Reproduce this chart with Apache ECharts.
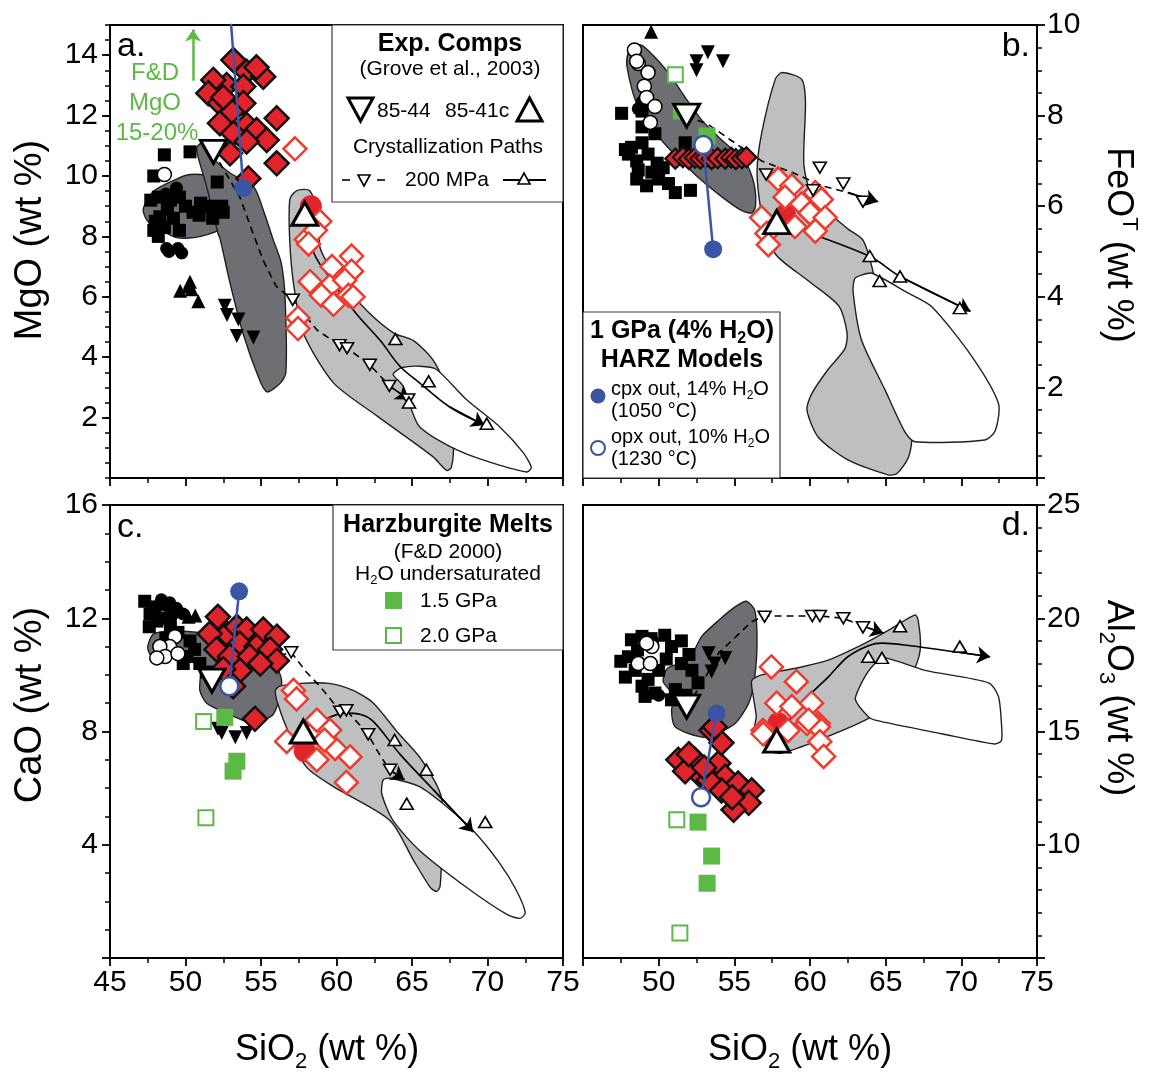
<!DOCTYPE html>
<html>
<head>
<meta charset="utf-8">
<script src="https://cdn.jsdelivr.net/npm/echarts@6/dist/echarts.min.js"></script>
<style>
  html, body { margin: 0; padding: 0; background: #fff; }
  #chart { width: 1149px; height: 1076px; }
</style>
</head>
<body>
<div id="chart"></div>
<script>
// ---------- axis ranges ----------
const sio2Range = [45, 75];   const sio2Step = 5;
const mgoRange  = [0, 15];    const mgoStep  = 2;
const feoRange  = [0, 10];    const feoStep  = 2;
const caoRange  = [0, 16];    const caoStep  = 4;
const alRange   = [5, 25];    const alStep   = 5;

// ---------- panel a : MgO vs SiO2 ----------
const blackSquaresA = [[48.6,10.7],[50.3,10.8],[47.9,10.0],[52.1,9.8],[47.7,9.2],[48.2,9.3],[49.0,9.2],[49.6,9.3],[48.8,8.9],[50.0,9.0],[51.0,9.1],[51.6,9.0],[52.4,9.0],[48.3,8.65],[49.2,8.6],[47.9,8.2],[48.6,8.3],[49.6,8.2],[50.5,8.8],[51.8,8.6],[52.5,8.8],[48.2,8.0],[50.9,8.7],[48.0,8.5]];
const blackCirclesA = [[48.75,7.6],[49.5,7.6],[49.75,7.45],[48.9,7.5],[49.4,9.6],[48.7,9.4]];
const whiteCirclesA = [[48.6,10.05]];
const blackUpA = [[50.3,6.5],[49.65,6.2],[50.4,6.25],[50.85,5.85],[50.2,6.35]];
const blackDownA = [[52.6,5.7],[52.75,5.4],[53.5,5.25],[53.4,4.7],[54.5,4.65]];
const redDiamondsA = [[53.17,13.84],[54.05,13.45],[55.15,13.29],[52.73,13.01],[51.84,13.18],[51.51,12.74],[53.83,12.96],[53.83,12.41],[52.28,12.41],[53.06,12.13],[56.04,11.91],[52.28,11.75],[54.05,11.69],[54.71,11.52],[55.38,11.19],[53.17,11.41],[54.05,11.14],[52.95,10.75],[56.04,10.42],[54.16,9.92],[54.7,13.6],[52.5,12.6]];
const openDiamondsA = [[57.25,10.9],[58.9,8.5],[58.0,7.9],[58.6,8.2],[58.15,7.75],[61.0,7.35],[59.7,7.0],[61.0,6.85],[58.25,6.5],[59.55,6.35],[60.55,6.55],[59.0,6.05],[60.8,6.05],[59.8,5.75],[61.1,6.0],[57.45,5.3],[57.45,4.95]];
const redCircleA = [[58.3,9.0]];
const exp8544A = [[51.85,10.8]];
const exp8541A = [[57.9,8.75]];
const path8544A = [[51.85,10.8],[53.6,9.3],[54.4,8.2],[55.15,7.2],[56.0,6.35],[57.1,5.9],[58.7,4.9],[60.2,4.4],[60.7,4.3],[62.2,3.75],[63.5,3.05],[64.8,2.6]];
const steps8544A = [[57.1,5.9],[60.2,4.4],[60.7,4.3],[62.2,3.75],[63.5,3.05],[64.75,2.6]];
const path8541A = [[57.9,8.75],[58.5,7.45],[59.8,6.45],[61.3,5.45],[62.9,4.55],[64.2,3.7],[65.5,3.15],[67.5,2.35],[69.8,1.75]];
const steps8541A = [[63.9,4.6],[66.1,3.2],[64.8,2.5],[69.95,1.8]];
const cpxOutA = [[53.83,9.6]];
const opxOutA = [[52.8,16.5]];
const fieldDarkBlobA = [[47.2,8.9],[47.9,9.5],[49.4,9.9],[50.3,10.05],[51.6,10.0],[52.6,9.6],[52.9,8.9],[52.5,8.3],[51.0,8.0],[49.5,7.95],[48.4,8.2],[47.5,8.5]];
const fieldDarkA = [[50.75,10.95],[51.15,11.1],[52.0,10.5],[52.95,10.1],[54.5,9.65],[55.2,8.8],[55.8,7.9],[56.35,7.1],[56.6,5.9],[56.65,3.5],[56.3,3.15],[55.4,2.85],[54.9,3.25],[53.8,4.8],[52.95,6.45],[52.3,7.9],[52.15,8.1],[51.4,9.65],[50.85,10.6]];
const fieldLightA = [[56.9,9.2],[57.2,9.45],[57.6,9.55],[58.25,9.5],[58.9,8.65],[58.9,7.65],[59.8,6.8],[62.0,5.55],[63.8,4.8],[65.1,4.55],[66.4,3.9],[67.6,2.6],[67.75,1.0],[67.6,0.35],[67.3,0.25],[66.4,0.7],[62.7,2.05],[59.8,3.15],[57.8,4.8],[57.15,6.45],[56.9,7.9]];
const fieldWhiteA = [[63.75,3.45],[64.3,3.65],[65.5,3.7],[66.6,3.6],[68.6,2.6],[70.8,1.7],[72.35,0.85],[72.9,0.35],[72.6,0.2],[69.7,0.6],[67.5,1.05],[65.5,1.7],[64.9,2.35],[64.4,3.05],[63.85,3.35]];
const fdArrowA = [[50.5,13.15],[50.5,14.85]];

// ---------- panel b : FeOT vs SiO2 ----------
const blackSquaresB = [[47.55,8.05],[48.2,7.3],[48.9,7.4],[48.0,7.15],[48.55,7.0],[49.3,7.15],[49.9,6.95],[48.65,6.8],[49.55,6.75],[48.55,6.6],[50.65,6.5],[51.1,6.3],[52.1,6.35],[50.3,6.85],[48.9,7.75],[49.75,7.6],[48.9,8.1],[51.75,7.4],[49.2,6.45],[50.0,6.6],[47.8,7.25]];
const blackCirclesB = [[48.65,8.15],[48.9,8.3]];
const whiteCirclesB = [[48.4,9.45],[48.65,9.15],[48.55,9.2],[49.3,8.95],[49.05,8.65],[49.2,8.4],[49.75,8.2],[49.45,7.85]];
const blackUpB = [[49.5,9.85]];
const blackDownB = [[53.25,9.4],[52.5,9.2],[52.5,9.0],[54.25,9.2]];
const redDiamondsB = [[51.1,7.05],[51.6,7.08],[52.0,7.04],[52.4,7.07],[52.75,7.05],[53.1,7.07],[53.5,7.04],[53.9,7.06],[54.4,7.05],[54.8,7.07],[55.1,7.04],[55.5,7.06],[55.8,7.08]];
const openDiamondsB = [[57.9,6.6],[58.8,6.45],[58.35,6.2],[59.45,6.05],[60.35,6.3],[60.75,6.15],[60.0,5.85],[61.0,5.75],[56.8,5.75],[57.15,5.4],[57.25,5.15],[60.35,5.45],[59.0,5.55]];
const redCircleB = [[58.35,5.8]];
const exp8544B = [[51.85,8.0]];
const exp8541B = [[57.8,5.65]];
const path8544B = [[51.85,8.0],[53.3,7.8],[54.8,7.45],[56.8,7.0],[58.8,6.75],[60.8,6.45],[62.5,6.3],[64.5,6.1]];
const steps8544B = [[57.1,6.7],[60.65,6.85],[60.2,6.35],[62.2,6.5],[63.5,6.1]];
const path8541B = [[57.8,5.65],[63.9,4.9],[65.95,4.45],[70.6,3.68]];
const steps8541B = [[63.95,4.9],[64.6,4.35],[65.95,4.45],[69.9,3.75]];
const greenFilledB = [[51.5,8.1],[53.2,7.55]];
const greenOpenB = [[51.1,8.9]];
const cpxOutB = [[53.6,5.05]];
const opxOutB = [[52.95,7.35]];
const fieldDarkB = [[48.0,9.4],[48.35,9.55],[48.9,9.55],[50.0,9.2],[50.85,8.85],[51.75,8.4],[52.85,7.9],[54.2,7.45],[55.7,7.0],[56.3,6.5],[56.4,6.0],[56.15,5.85],[55.5,5.9],[54.2,6.2],[52.4,6.7],[50.6,7.3],[49.5,7.75],[48.45,8.35],[47.9,9.1]];
const fieldLightB = [[56.5,6.75],[56.8,7.6],[57.7,8.8],[58.15,8.95],[59.45,8.8],[59.7,8.3],[59.6,6.9],[60.2,6.2],[62.5,5.5],[63.5,5.25],[64.2,4.5],[65.0,3.0],[66.7,0.9],[66.5,0.45],[65.75,0.1],[65.15,0.07],[62.5,0.4],[60.55,0.9],[59.8,1.5],[60.1,1.85],[61.2,2.4],[62.3,2.85],[62.45,3.2],[61.9,3.8],[59.9,4.35],[57.7,4.95],[56.8,5.85]];
const fieldWhiteB = [[62.95,4.4],[63.4,4.48],[64.1,4.52],[66.5,4.08],[68.05,3.78],[70.7,2.68],[72.45,1.65],[72.25,1.05],[71.55,0.84],[66.95,0.8],[66.3,1.0],[64.95,1.95],[63.4,3.05],[62.85,4.1]];

// ---------- panel c : CaO vs SiO2 ----------
const blackSquaresC = [[47.3,12.6],[47.85,12.4],[47.65,12.15],[48.1,11.9],[50.1,10.65],[49.85,10.4],[50.95,10.4],[51.4,10.1],[48.0,12.3],[48.5,12.0],[49.0,11.7],[49.5,11.5],[50.3,11.2],[50.6,10.9],[48.7,11.3],[47.6,11.7]];
const blackCirclesC = [[48.4,12.65],[48.95,12.55],[49.4,12.35],[49.85,12.15],[48.7,12.45],[49.1,12.1]];
const blackUpC = [[50.2,12.05],[50.65,12.1]];
const whiteCirclesC = [[49.3,11.35],[48.95,11.0],[48.3,11.0],[48.65,10.65],[48.1,10.6],[49.5,10.75]];
const blackDownC = [[52.15,8.1],[52.4,7.95],[53.3,7.8],[54.05,7.95]];
const redDiamondsC = [[52.15,12.05],[52.75,11.45],[51.6,11.45],[53.4,11.7],[54.05,11.6],[55.15,11.6],[56.05,11.35],[53.6,11.1],[54.7,11.0],[52.05,10.9],[55.6,10.9],[52.95,10.65],[54.25,10.65],[56.05,10.5],[54.95,10.4],[53.6,10.15],[53.15,9.6],[54.6,8.45],[52.5,10.2]];
const openDiamondsC = [[57.15,9.45],[57.35,9.15],[56.7,7.65],[58.45,7.95],[59.55,8.05],[59.9,7.4],[58.7,7.0],[60.9,7.1],[60.65,6.2],[58.7,8.4],[59.2,7.7]];
const redCircleC = [[57.9,7.3]];
const exp8544C = [[51.75,9.8]];
const exp8541C = [[57.8,8.0]];
const path8544C = [[51.75,9.8],[54.5,10.4],[57.0,10.8],[58.0,10.1],[58.9,9.6],[60.2,8.75],[60.65,8.75],[62.1,7.9],[62.55,7.45],[63.5,6.65],[64.5,6.3]];
const steps8544C = [[57.0,10.8],[60.25,8.7],[60.65,8.75],[62.1,7.9],[63.55,6.65]];
const path8541C = [[57.8,8.0],[59.3,8.45],[60.6,8.65],[61.6,8.6],[62.45,8.35],[64.2,7.2],[66.4,5.95],[69.05,4.45]];
const steps8541C = [[63.85,7.7],[65.95,6.65],[64.65,5.45],[69.85,4.8]];
const greenFilledC = [[52.6,8.5],[53.4,6.95],[53.15,6.6]];
const greenOpenC = [[51.2,8.35],[51.35,4.95]];
const cpxOutC = [[53.55,12.95]];
const opxOutC = [[52.9,9.6]];
const fieldDarkC = [[47.5,11.0],[47.9,11.45],[49.5,11.55],[51.5,11.45],[54.0,11.2],[55.8,10.5],[56.35,9.85],[56.25,9.25],[55.8,8.6],[54.7,8.3],[54.05,8.35],[52.7,8.65],[51.4,9.0],[50.95,9.45],[50.95,10.15],[50.1,10.6],[48.6,10.6],[47.7,10.7]];
const fieldLightC = [[55.95,9.45],[56.25,9.6],[57.6,9.7],[59.5,9.7],[61.1,9.45],[62.45,9.0],[64.0,8.0],[65.5,7.1],[66.6,6.15],[67.0,5.5],[66.95,3.45],[66.85,2.5],[66.6,2.35],[66.2,2.5],[65.1,3.45],[63.55,4.85],[59.8,6.05],[58.0,6.75],[56.8,8.0],[56.1,9.0]];
const fieldWhiteC = [[63.1,6.3],[63.55,6.35],[65.5,6.05],[67.4,5.3],[69.05,4.5],[70.8,3.35],[71.9,2.4],[72.5,1.6],[72.15,1.4],[71.25,1.55],[68.6,2.5],[65.5,3.8],[63.75,4.85],[63.0,5.8]];

// ---------- panel d : Al2O3 vs SiO2 ----------
const blackSquaresD = [[48.2,19.05],[48.9,19.2],[50.4,19.25],[50.85,18.75],[48.0,18.3],[47.8,17.4],[48.45,17.7],[50.0,17.7],[51.5,18.0],[52.2,17.7],[48.9,17.0],[49.75,16.7],[51.1,16.85],[49.1,16.55],[52.6,17.15],[50.85,16.4],[49.5,19.1],[48.6,18.6],[51.5,19.0],[49.3,17.3],[50.5,18.2],[51.8,16.6],[47.5,18.1],[52.0,18.4]];
const blackCirclesD = [[50.0,16.6],[49.6,19.0]];
const whiteCirclesD = [[49.55,18.75],[49.2,18.9],[48.65,18.0],[49.45,18.0]];
const blackDownD = [[53.3,18.45],[54.4,18.25],[53.7,18.0],[53.5,17.65]];
const redDiamondsD = [[51.3,13.75],[52.4,13.75],[53.95,13.6],[54.15,14.5],[53.5,15.05],[53.7,15.2],[52.85,13.0],[54.4,13.0],[55.25,12.7],[56.15,12.4],[55.95,11.85],[54.95,11.55],[54.15,12.4],[51.75,13.25],[53.3,12.85],[54.85,12.1],[52.0,14.0],[53.0,13.4]];
const openDiamondsD = [[57.45,17.85],[59.1,17.2],[57.8,16.25],[58.8,16.1],[60.1,16.25],[60.55,15.35],[59.8,15.35],[56.9,15.05],[56.9,14.9],[60.55,15.2],[60.65,14.55],[60.9,13.9],[58.55,15.05],[59.9,15.5]];
const redCircleD = [[57.9,15.35]];
const exp8544D = [[51.85,16.1]];
const exp8541D = [[57.8,14.6]];
const path8544D = [[51.85,16.1],[52.85,17.1],[53.95,18.45],[56.15,19.85],[57.0,20.1],[60.15,20.1],[60.7,20.1],[62.2,20.0],[63.5,19.65],[64.85,19.35]];
const steps8544D = [[57.0,20.07],[60.15,20.1],[60.65,20.1],[62.2,20.0],[63.5,19.6]];
const path8541D = [[57.8,14.6],[58.4,15.3],[59.9,16.55],[61.2,17.4],[62.5,18.3],[63.9,18.8],[64.75,18.9],[66.5,18.8],[69.8,18.5],[71.9,18.3]];
const steps8541D = [[63.85,18.3],[64.75,18.25],[65.95,19.65],[69.9,18.75]];
const greenFilledD = [[52.6,11.0],[53.5,9.5],[53.2,8.3]];
const greenOpenD = [[51.2,11.1],[51.4,6.1]];
const cpxOutD = [[53.83,15.8]];
const opxOutD = [[52.8,12.1]];
const fieldDarkD = [[55.8,20.75],[56.35,20.35],[56.5,19.05],[56.35,17.4],[55.95,16.25],[55.05,15.35],[53.8,14.9],[52.85,14.75],[51.1,15.2],[50.85,15.95],[51.05,16.55],[50.3,17.2],[50.6,17.8],[51.95,18.15],[52.85,19.2],[53.95,19.9],[55.05,20.5]];
const fieldLightD = [[56.15,17.25],[56.8,17.5],[59.45,17.85],[61.2,18.15],[63.65,18.9],[65.4,19.55],[66.95,20.15],[67.15,19.9],[67.3,18.75],[67.05,18.0],[66.0,16.5],[63.65,15.5],[60.5,14.6],[58.15,14.05],[57.45,14.1],[56.8,14.6],[56.35,15.2],[56.45,15.65],[56.25,16.55]];
const fieldWhiteD = [[64.3,18.0],[64.95,18.25],[67.6,17.7],[71.8,17.15],[72.45,16.55],[72.65,15.35],[72.65,14.6],[72.2,14.45],[68.7,14.9],[64.3,15.5],[63.85,15.65],[63.0,16.4],[63.2,16.85],[63.65,17.45]];

// ---------- styling ----------
const FONT = "'Liberation Sans', Arial, Helvetica, sans-serif";
const RED = '#e1242b', RED_OPEN = '#ee3b2d', BLUE = '#3a55a4', GREEN = '#5cb946';
const DARK = '#6e6f72', LIGHT = '#bdbfc1', EDGE = '#231f20';

const MARK = {
  blackSquare: { symbol: 'rect', symbolSize: 13, itemStyle: { color: '#000' } },
  blackCircle: { symbol: 'circle', symbolSize: 13, itemStyle: { color: '#000' } },
  whiteCircle: { symbol: 'circle', symbolSize: 14, itemStyle: { color: '#fff', borderColor: '#000', borderWidth: 1.5 } },
  blackUp:     { symbol: 'triangle', symbolSize: 14, itemStyle: { color: '#000' } },
  blackDown:   { symbol: 'triangle', symbolSize: 14, symbolRotate: 180, itemStyle: { color: '#000' } },
  redDiamond:  { symbol: 'diamond', symbolSize: 24, itemStyle: { color: RED, borderColor: '#111', borderWidth: 2.5 } },
  redDiamondS: { symbol: 'diamond', symbolSize: 20, itemStyle: { color: RED, borderColor: '#111', borderWidth: 2.2 } },
  openDiamond: { symbol: 'diamond', symbolSize: 23, itemStyle: { color: '#fff', borderColor: RED_OPEN, borderWidth: 2.5 } },
  redCircle:   { symbol: 'circle', symbolSize: 22, itemStyle: { color: RED } },
  bigDown:     { symbol: 'triangle', symbolSize: [26, 23], symbolRotate: 180, itemStyle: { color: '#fff', borderColor: '#000', borderWidth: 3 } },
  bigUp:       { symbol: 'triangle', symbolSize: [26, 23], itemStyle: { color: '#fff', borderColor: '#000', borderWidth: 3 } },
  stepDown:    { symbol: 'triangle', symbolSize: [13, 11], symbolRotate: 180, itemStyle: { color: '#fff', borderColor: '#000', borderWidth: 1.6 } },
  stepUp:      { symbol: 'triangle', symbolSize: [13, 11], itemStyle: { color: '#fff', borderColor: '#000', borderWidth: 1.6 } },
  greenFilled: { symbol: 'rect', symbolSize: 17, itemStyle: { color: GREEN } },
  greenOpen:   { symbol: 'rect', symbolSize: 15, itemStyle: { color: '#fff', borderColor: GREEN, borderWidth: 2 } },
  cpxOut:      { symbol: 'circle', symbolSize: 18, itemStyle: { color: BLUE } },
  opxOut:      { symbol: 'circle', symbolSize: 18, itemStyle: { color: '#fff', borderColor: BLUE, borderWidth: 2.5 } }
};

function pts(gi, data, kind, z) {
  const m = MARK[kind];
  return {
    type: 'scatter', xAxisIndex: gi, yAxisIndex: gi, data, z, silent: true, animation: false,
    symbol: m.symbol, symbolSize: m.symbolSize, symbolRotate: m.symbolRotate || 0,
    itemStyle: Object.assign({ opacity: 1 }, m.itemStyle)
  };
}

function field(gi, poly, fill) {
  return {
    type: 'custom', xAxisIndex: gi, yAxisIndex: gi, z: 1, silent: true, animation: false, data: poly,
    renderItem: (params, api) => params.dataIndex !== 0 ? null : {
      type: 'polygon',
      shape: { points: poly.map(p => api.coord(p)), smooth: 0.25 },
      style: { fill, stroke: EDGE, lineWidth: 1.4 }
    }
  };
}

function path(gi, data, dashed, z) {
  const ls = { color: '#000', width: 1.6, opacity: 1, type: dashed ? [7, 5] : 'solid' };
  return [
    { type: 'line', xAxisIndex: gi, yAxisIndex: gi, data, symbol: 'none', showSymbol: false,
      smooth: dashed ? 0 : 0.35, lineStyle: ls, z, silent: true, animation: false },
    { type: 'lines', coordinateSystem: 'cartesian2d', xAxisIndex: gi, yAxisIndex: gi,
      symbol: ['none', 'arrow'], symbolSize: 13, lineStyle: Object.assign({}, ls, { type: 'solid' }),
      data: [{ coords: data.slice(-2) }], z, silent: true, animation: false }
  ];
}

function model(gi, cpx, opx) {
  return [
    { type: 'line', xAxisIndex: gi, yAxisIndex: gi, data: [cpx[0], opx[0]], symbol: 'none',
      lineStyle: { color: BLUE, width: 2.5, opacity: 1 }, z: 9, silent: true, animation: false },
    pts(gi, cpx, 'cpxOut', 10),
    pts(gi, opx, 'opxOut', 10)
  ];
}

function panel(gi, d) {
  const s = [];
  s.push(field(gi, d.dark, DARK));
  if (d.dark2) s.push(field(gi, d.dark2, DARK));
  s.push(field(gi, d.light, LIGHT));
  s.push(field(gi, d.white, '#fff'));
  if (d.bsq) s.push(pts(gi, d.bsq, 'blackSquare', 2));
  if (d.bci) s.push(pts(gi, d.bci, 'blackCircle', 2));
  if (d.wci) s.push(pts(gi, d.wci, 'whiteCircle', 2));
  if (d.bup) s.push(pts(gi, d.bup, 'blackUp', 2));
  if (d.bdn) s.push(pts(gi, d.bdn, 'blackDown', 2));
  s.push(...path(gi, d.p44, true, 3));
  s.push(...path(gi, d.p41, false, 3));
  s.push(pts(gi, d.rci, 'redCircle', 3));
  s.push(pts(gi, d.odi, 'openDiamond', 4));
  s.push(pts(gi, d.rdi, d.small ? 'redDiamondS' : 'redDiamond', 4));
  s.push(pts(gi, d.s44, 'stepDown', 6));
  s.push(pts(gi, d.s41, 'stepUp', 6));
  if (d.gf) s.push(pts(gi, d.gf, 'greenFilled', 6));
  if (d.go) s.push(pts(gi, d.go, 'greenOpen', 6));
  s.push(pts(gi, d.e44, 'bigDown', 7));
  s.push(pts(gi, d.e41, 'bigUp', 7));
  s.push(...model(gi, d.cpx, d.opx));
  return s;
}

const series = [
  ...panel(0, { dark: fieldDarkBlobA, dark2: fieldDarkA, light: fieldLightA, white: fieldWhiteA,
    bsq: blackSquaresA, bci: blackCirclesA, wci: whiteCirclesA, bup: blackUpA, bdn: blackDownA,
    p44: path8544A, p41: path8541A, s44: steps8544A, s41: steps8541A, rci: redCircleA,
    odi: openDiamondsA, rdi: redDiamondsA, e44: exp8544A, e41: exp8541A, cpx: cpxOutA, opx: opxOutA }),
  ...panel(1, { dark: fieldDarkB, light: fieldLightB, white: fieldWhiteB,
    bsq: blackSquaresB, bci: blackCirclesB, wci: whiteCirclesB, bup: blackUpB, bdn: blackDownB,
    p44: path8544B, p41: path8541B, s44: steps8544B, s41: steps8541B, rci: redCircleB,
    odi: openDiamondsB, rdi: redDiamondsB, small: true, gf: greenFilledB, go: greenOpenB,
    e44: exp8544B, e41: exp8541B, cpx: cpxOutB, opx: opxOutB }),
  ...panel(2, { dark: fieldDarkC, light: fieldLightC, white: fieldWhiteC,
    bsq: blackSquaresC, bci: blackCirclesC, wci: whiteCirclesC, bup: blackUpC, bdn: blackDownC,
    p44: path8544C, p41: path8541C, s44: steps8544C, s41: steps8541C, rci: redCircleC,
    odi: openDiamondsC, rdi: redDiamondsC, gf: greenFilledC, go: greenOpenC,
    e44: exp8544C, e41: exp8541C, cpx: cpxOutC, opx: opxOutC }),
  ...panel(3, { dark: fieldDarkD, light: fieldLightD, white: fieldWhiteD,
    bsq: blackSquaresD, bci: blackCirclesD, wci: whiteCirclesD, bdn: blackDownD,
    p44: path8544D, p41: path8541D, s44: steps8544D, s41: steps8541D, rci: redCircleD,
    odi: openDiamondsD, rdi: redDiamondsD, gf: greenFilledD, go: greenOpenD,
    e44: exp8544D, e41: exp8541D, cpx: cpxOutD, opx: opxOutD }),
  // F&D (2000) MgO is off scale (15-20 %): upward arrow
  { type: 'lines', coordinateSystem: 'cartesian2d', xAxisIndex: 0, yAxisIndex: 0,
    symbol: ['none', 'arrow'], symbolSize: 12, lineStyle: { color: GREEN, width: 2.5, opacity: 1 },
    data: [{ coords: fdArrowA }], z: 8, silent: true, animation: false }
];

// ---------- axes ----------
const tickLine = { color: '#000', width: 1.8 };
const labelStyle = { fontSize: 30, fontFamily: FONT, color: '#000' };

function xAx(gi, showLabels, showMin) {
  return {
    gridIndex: gi, type: 'value', min: sio2Range[0], max: sio2Range[1], interval: sio2Step,
    axisLine: { show: true, onZero: false, lineStyle: { color: '#000', width: 2 } },
    axisTick: { show: true, length: 8, lineStyle: tickLine },
    minorTick: { show: true, splitNumber: 2, length: 5, lineStyle: { color: '#000', width: 1.5 } },
    splitLine: { show: false },
    axisLabel: Object.assign({ show: showLabels, showMinLabel: showMin, showMaxLabel: true, margin: 10 }, labelStyle)
  };
}
function yAx(gi, range, step, minorSplit, pos, showMin, showMax) {
  return {
    gridIndex: gi, type: 'value', position: pos, min: range[0], max: range[1], interval: step,
    axisLine: { show: true, onZero: false, lineStyle: { color: '#000', width: 2 } },
    axisTick: { show: true, length: 8, lineStyle: tickLine },
    minorTick: { show: minorSplit > 0, splitNumber: minorSplit || 1, length: 5, lineStyle: { color: '#000', width: 1.5 } },
    splitLine: { show: false },
    axisLabel: Object.assign({ showMinLabel: showMin, showMaxLabel: showMax, margin: pos === 'left' ? 12 : 10 }, labelStyle)
  };
}

const xAxis = [xAx(0, false, true), xAx(1, false, false), xAx(2, true, true), xAx(3, true, false)];
const yAxis = [
  yAx(0, mgoRange, mgoStep, 0, 'left', false, false),
  yAx(1, feoRange, feoStep, 4, 'right', false, true),
  yAx(2, caoRange, caoStep, 4, 'left', false, true),
  yAx(3, alRange, alStep, 5, 'right', false, true),
  // half-unit ticks for the MgO scale
  { gridIndex: 0, type: 'value', position: 'left', min: mgoRange[0], max: mgoRange[1], interval: 0.5,
    axisLine: { show: false }, axisLabel: { show: false }, splitLine: { show: false },
    axisTick: { show: true, length: 5, lineStyle: { color: '#000', width: 1.5 } } }
];

const gridBase = { show: true, borderColor: '#000', borderWidth: 2, backgroundColor: '#fff', containLabel: false, outerBoundsMode: 'none' };
const grid = [
  Object.assign({ left: 110, top: 25, width: 453, height: 453 }, gridBase),
  Object.assign({ left: 583, top: 25, width: 454, height: 453 }, gridBase),
  Object.assign({ left: 110, top: 505, width: 453, height: 453 }, gridBase),
  Object.assign({ left: 583, top: 505, width: 454, height: 453 }, gridBase)
];

// ---------- text, titles and key boxes ----------
function rich(size, weight) {
  const sub = Math.round(size * 0.62);
  return {
    m:   { fontSize: size, fontWeight: weight, fontFamily: FONT, color: '#000', lineHeight: Math.round(size * 1.25) },
    sub: { fontSize: sub, fontWeight: weight, fontFamily: FONT, color: '#000', lineHeight: sub, verticalAlign: 'bottom' },
    sup: { fontSize: sub, fontWeight: weight, fontFamily: FONT, color: '#000', lineHeight: sub, verticalAlign: 'top' }
  };
}
function txt(x, y, text, size, opts) {
  opts = opts || {};
  return {
    type: 'text', x, y, rotation: opts.rot || 0, z: 100, silent: true,
    style: {
      text, rich: rich(size, opts.bold ? 'bold' : 'normal'),
      font: (opts.bold ? 'bold ' : '') + size + 'px ' + FONT,
      fill: opts.color || '#000', align: opts.align || 'center', verticalAlign: 'middle'
    }
  };
}
function plain(x, y, text, size, opts) {
  opts = opts || {};
  return {
    type: 'text', x, y, z: 100, silent: true,
    style: { text, font: (opts.bold ? 'bold ' : '') + size + 'px ' + FONT, fill: opts.color || '#000',
             align: opts.align || 'center', verticalAlign: 'middle' }
  };
}
const box = (x, y, w, h) => ({ type: 'rect', z: 99, silent: true, shape: { x, y, width: w, height: h },
  style: { fill: '#fff', stroke: '#3a3a3a', lineWidth: 1.2 } });
const tri = (points, lw) => ({ type: 'polygon', z: 100, silent: true, shape: { points },
  style: { fill: '#fff', stroke: '#000', lineWidth: lw } });
const seg = (x1, y1, x2, y2, color, lw) => ({ type: 'line', z: 100, silent: true,
  shape: { x1, y1, x2, y2 }, style: { stroke: color, lineWidth: lw } });

const graphic = [
  // axis titles
  txt(31, 240, '{m|MgO (wt %)}', 38, { rot: Math.PI / 2 }),
  txt(31, 705, '{m|CaO (wt %)}', 38, { rot: Math.PI / 2 }),
  txt(1118, 245, '{m|FeO}{sup|T}{m| (wt %)}', 36, { rot: -Math.PI / 2 }),
  txt(1118, 698, '{m|Al}{sub|2}{m|O}{sub|3}{m| (wt %)}', 36, { rot: -Math.PI / 2 }),
  txt(327, 1050, '{m|SiO}{sub|2}{m| (wt %)}', 36),
  txt(800, 1050, '{m|SiO}{sub|2}{m| (wt %)}', 36),
  // panel letters
  plain(117, 47, 'a.', 34, { align: 'left' }),
  plain(1030, 47, 'b.', 34, { align: 'right' }),
  plain(117, 528, 'c.', 34, { align: 'left' }),
  plain(1030, 526, 'd.', 34, { align: 'right' }),
  // F&D note in panel a
  plain(155, 73, 'F&D', 24, { color: GREEN }),
  plain(155, 103, 'MgO', 24, { color: GREEN }),
  plain(157, 133, '15-20%', 24, { color: GREEN }),
  // key: experimental compositions
  box(332, 25, 231, 177),
  plain(450, 44, 'Exp. Comps', 25, { bold: true }),
  plain(450, 69, '(Grove et al., 2003)', 21),
  tri([[348, 98], [373, 98], [360.5, 121]], 3),
  plain(377, 111, '85-44', 21, { align: 'left' }),
  plain(445, 111, '85-41c', 21, { align: 'left' }),
  tri([[517, 121], [542, 121], [529.5, 98]], 3),
  plain(448, 147, 'Crystallization Paths', 21),
  seg(342, 180, 350, 180, '#000', 1.6),
  tri([[358, 175], [370, 175], [364, 186]], 1.6),
  seg(377, 180, 385, 180, '#000', 1.6),
  plain(405, 180, '200 MPa', 21, { align: 'left' }),
  seg(503, 180, 546, 180, '#000', 1.8),
  tri([[518, 184], [530, 184], [524, 173]], 1.6),
  // key: HARZ models
  box(583, 312, 197, 166),
  txt(682, 331, '{m|1 GPa (4% H}{sub|2}{m|O)}', 25, { bold: true }),
  plain(682, 360, 'HARZ Models', 25, { bold: true }),
  { type: 'circle', z: 100, silent: true, shape: { cx: 598, cy: 396, r: 7.5 }, style: { fill: BLUE } },
  txt(611, 389, '{m|cpx out, 14% H}{sub|2}{m|O}', 20, { align: 'left' }),
  plain(611, 411, '(1050 °C)', 20, { align: 'left' }),
  { type: 'circle', z: 100, silent: true, shape: { cx: 598, cy: 448, r: 7 }, style: { fill: '#fff', stroke: BLUE, lineWidth: 2 } },
  txt(611, 437, '{m|opx out, 10% H}{sub|2}{m|O}', 20, { align: 'left' }),
  plain(611, 459, '(1230 °C)', 20, { align: 'left' }),
  // key: harzburgite melts
  box(333, 505, 230, 145),
  plain(448, 525, 'Harzburgite Melts', 25, { bold: true }),
  plain(448, 552, '(F&D 2000)', 21),
  txt(448, 574, '{m|H}{sub|2}{m|O undersaturated}', 21),
  { type: 'rect', z: 100, silent: true, shape: { x: 385, y: 592, width: 17, height: 17 }, style: { fill: GREEN } },
  plain(420, 601, '1.5 GPa', 21, { align: 'left' }),
  { type: 'rect', z: 100, silent: true, shape: { x: 386, y: 628, width: 15, height: 15 }, style: { fill: '#fff', stroke: GREEN, lineWidth: 2 } },
  plain(420, 636, '2.0 GPa', 21, { align: 'left' })
];

const chart = echarts.init(document.getElementById('chart'), null, { renderer: 'canvas' });
chart.setOption({
  animation: false,
  backgroundColor: '#fff',
  grid, xAxis, yAxis, series, graphic
});
</script>
</body>
</html>
